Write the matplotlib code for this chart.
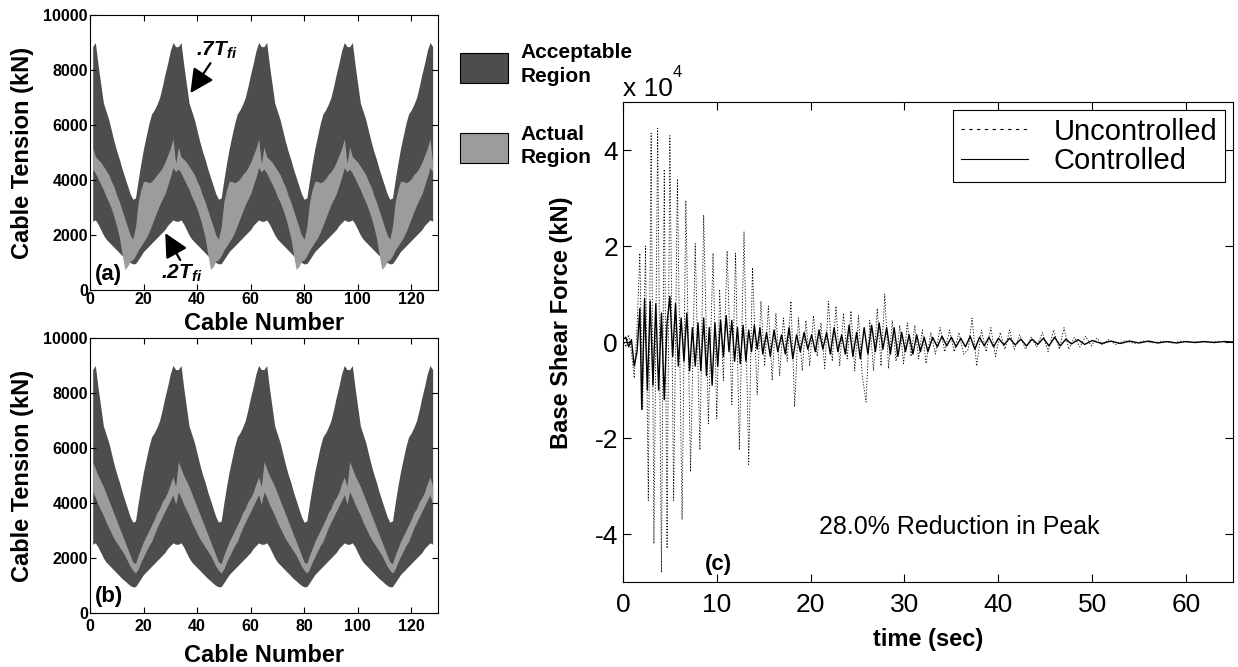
import numpy as np
import matplotlib.pyplot as plt
from matplotlib.patches import Rectangle
from matplotlib.lines import Line2D

plt.rcParams['font.family'] = ['Liberation Sans', 'DejaVu Sans']
plt.rcParams['mathtext.fontset'] = 'custom'
plt.rcParams['mathtext.rm'] = 'Liberation Sans:bold:italic'
plt.rcParams['mathtext.it'] = 'Liberation Sans:bold:italic'

# Datos de tension: un grupo de 32 cables que se repite 4 veces (128 cables)
n_groups = 4
upper_group = [8850, 9000, 8200, 7500, 6800, 6500, 6200, 5800, 5400, 5050, 4750, 4400,
               4100, 3800, 3500, 3300, 3350, 4000, 4600, 5150, 5600, 6050, 6400, 6550,
               6750, 7000, 7400, 7850, 8250, 8700, 9000, 8850]
lower_group = [2500, 2550, 2400, 2200, 2000, 1850, 1750, 1650, 1550, 1450, 1350, 1250,
               1170, 1080, 1000, 950, 960, 1100, 1250, 1400, 1500, 1600, 1700, 1800,
               1900, 2000, 2100, 2200, 2350, 2450, 2550, 2500]
act_a_top = [5200, 4850, 4750, 4650, 4500, 4350, 4200, 3950, 3750, 3450, 3200, 2900,
             2600, 2300, 2000, 1850, 2300, 3200, 3650, 3950, 3950, 3900, 3950, 4050,
             4200, 4300, 4450, 4650, 4900, 5150, 5500, 4600]
act_a_bot = [4400, 4250, 4050, 3850, 3650, 3400, 3200, 2950, 2650, 2300, 1900, 1300,
             750, 850, 1050, 1100, 1250, 1450, 1600, 1750, 1900, 2100, 2350, 2600,
             2850, 3100, 3300, 3500, 3800, 4100, 4450, 4300]
act_b_top = [5500, 5250, 5000, 4800, 4600, 4350, 4100, 3850, 3600, 3350, 3100, 2850,
             2600, 2350, 2100, 1850, 1800, 2100, 2350, 2600, 2800, 3000, 3200, 3400,
             3650, 3800, 4050, 4200, 4400, 4700, 4950, 4600]
act_b_bot = [4400, 4200, 3950, 3750, 3550, 3300, 3100, 2900, 2700, 2550, 2400, 2250,
             2100, 1900, 1700, 1550, 1450, 1600, 1850, 2050, 2250, 2450, 2600, 2850,
             3100, 3300, 3500, 3700, 3900, 4100, 4300, 3950]

# Cortante basal (x 10^4 kN): extremos
t_unc = [0.0, 0.3, 0.6, 0.9, 1.2, 1.5, 1.8, 2.1, 2.4, 2.7, 3.0, 3.3, 3.7, 4.1, 4.4, 4.7,
         5.0, 5.4, 5.8, 6.3, 6.7, 7.2, 7.7, 8.2, 8.6, 9.1, 9.6, 10.0, 10.3, 10.7, 11.1,
         11.6, 12.0, 12.4, 12.9, 13.4, 13.8, 14.3, 14.7, 15.1, 15.5, 15.9, 16.3, 16.7,
         17.1, 17.5, 17.9, 18.3, 18.7, 19.1, 19.5, 19.9, 20.3, 20.7, 21.1, 21.5, 21.9,
         22.3, 22.7, 23.1, 23.5, 23.9, 24.3, 24.7, 25.1, 25.5, 25.9, 26.3, 26.7, 27.1,
         27.5, 27.9, 28.3, 28.7, 29.1, 29.5, 29.9, 30.3, 30.7, 31.1, 31.5, 31.9, 32.3,
         32.8, 33.3, 33.8, 34.3, 34.8, 35.3, 35.8, 36.3, 36.8, 37.2, 37.7, 38.2, 38.7,
         39.2, 39.7, 40.2, 40.7, 41.2, 41.7, 42.3, 42.9, 43.5, 44.1, 44.7, 45.3, 45.9,
         46.5, 47.0, 47.5, 48.1, 48.7, 49.3, 49.9, 50.5, 51.1, 51.7, 52.5, 53.5, 54.5,
         55.5, 56.5, 57.5, 58.5, 59.5, 60.5, 61.5, 62.5, 63.5, 65.0]
v_unc = [0.05, -0.1, 0.15, -0.2, -0.75, 0.3, 1.85, -1.4, 2.0, -3.3, 4.35, -4.2, 4.45, -4.8,
         3.6, -4.3, 4.3, -3.3, 3.4, -3.7, 2.95, -2.7, 2.05, -2.25, 2.65, -1.7, 1.85, -1.6,
         1.1, -0.8, 1.9, -1.3, 1.85, -2.25, 2.3, -2.55, 1.55, -1.1, 0.85, -0.5, 0.75, -0.8,
         0.6, -0.7, 0.5, -0.4, 0.85, -1.35, 0.5, -0.6, 0.45, -0.5, 0.55, -0.3, 0.4, -0.55,
         0.85, -0.4, 0.75, -0.5, 0.6, -0.35, 0.65, -0.6, 0.55, -0.7, -1.25, 0.45, -0.6,
         0.7, -0.5, 1.0, -0.55, 0.45, -0.4, 0.35, -0.45, 0.4, -0.3, 0.35, -0.35, 0.25,
         -0.45, 0.2, -0.25, 0.3, -0.2, 0.25, -0.2, 0.2, -0.25, -0.15, 0.5, -0.5, 0.25,
         -0.2, 0.3, -0.3, 0.2, -0.15, 0.25, -0.15, 0.15, -0.15, 0.1, -0.1, 0.2, -0.2, 0.25,
         -0.15, 0.3, -0.15, 0.1, -0.1, 0.12, -0.08, 0.08, -0.06, 0.05, -0.05, 0.03, -0.03,
         0.02, -0.02, 0.02, -0.02, 0.02, -0.01, 0.01, -0.01, 0.01, 0.0]
t_con = [0.0, 0.3, 0.6, 0.9, 1.2, 1.5, 1.8, 2.0, 2.3, 2.6, 2.9, 3.2, 3.5, 3.8, 4.1, 4.4,
         4.7, 5.0, 5.3, 5.6, 5.9, 6.2, 6.5, 6.8, 7.1, 7.4, 7.7, 8.0, 8.3, 8.6, 8.9, 9.2,
         9.5, 9.8, 10.1, 10.4, 10.7, 11.0, 11.3, 11.6, 11.9, 12.2, 12.5, 12.8, 13.1, 13.4,
         13.7, 14.0, 14.3, 14.6, 14.9, 15.3, 15.7, 16.1, 16.5, 16.9, 17.3, 17.7, 18.1,
         18.5, 18.9, 19.3, 19.7, 20.1, 20.5, 20.9, 21.3, 21.7, 22.1, 22.5, 22.9, 23.3,
         23.7, 24.1, 24.5, 24.9, 25.3, 25.7, 26.1, 26.5, 26.9, 27.3, 27.7, 28.1, 28.5,
         28.9, 29.3, 29.7, 30.1, 30.5, 30.9, 31.3, 31.7, 32.1, 32.5, 33.0, 33.5, 34.0,
         34.5, 35.0, 35.5, 36.0, 36.5, 37.0, 37.5, 38.0, 38.5, 39.0, 39.5, 40.0, 40.6,
         41.2, 41.8, 42.4, 43.0, 43.6, 44.2, 44.8, 45.4, 46.0, 46.6, 47.2, 47.8, 48.5,
         49.2, 50.0, 51.0, 52.0, 53.0, 54.0, 55.0, 56.0, 57.0, 58.0, 59.0, 60.0, 61.0,
         62.0, 63.0, 64.0, 65.0]
v_con = [0.05, 0.1, -0.1, 0.05, -0.5, -0.2, 0.7, -1.4, 0.9, -1.0, 0.85, -0.9, 0.8, -1.0,
         0.6, -1.2, 0.4, 0.95, -0.3, 0.8, -0.5, 0.5, -0.4, 0.6, -0.6, 0.3, -0.5, 0.4, -0.6,
         0.5, -0.7, 0.3, -0.9, 0.4, -0.5, 0.45, -0.3, 0.55, -0.2, 0.45, -0.4, 0.3, -0.45,
         0.35, -0.4, 0.25, -0.2, 0.35, -0.15, 0.3, -0.25, 0.2, -0.3, 0.25, -0.2, 0.15,
         -0.25, 0.3, -0.35, 0.15, -0.2, 0.2, -0.15, 0.15, -0.2, 0.25, -0.15, 0.2, -0.25,
         0.3, -0.2, 0.15, -0.25, 0.35, -0.3, 0.2, -0.35, 0.3, -0.25, 0.35, -0.2, 0.4,
         -0.15, 0.3, -0.25, 0.3, -0.3, 0.2, -0.2, 0.15, -0.25, 0.15, -0.2, 0.1, -0.2, 0.1,
         -0.1, 0.12, -0.08, 0.1, -0.1, 0.08, -0.1, 0.12, -0.15, 0.1, -0.08, 0.1, -0.1,
         0.08, -0.06, 0.08, -0.06, 0.06, -0.08, 0.06, -0.05, 0.08, -0.08, 0.1, -0.08, 0.06,
         -0.04, 0.05, -0.05, 0.03, -0.03, 0.02, -0.03, 0.02, -0.02, 0.02, -0.02, 0.01,
         -0.02, 0.01, -0.01, 0.01, -0.01, 0.01, 0.0]

dark = '#4d4d4d'
light = '#9c9c9c'

cable = np.arange(1, 32 * n_groups + 1)
upper = np.tile(upper_group, n_groups)
lower = np.tile(lower_group, n_groups)

fig = plt.figure(figsize=(12.38, 6.67), dpi=100)
ax_a = fig.add_axes([0.0727, 0.5652, 0.2811, 0.4123])
ax_b = fig.add_axes([0.0727, 0.0810, 0.2811, 0.4123])
ax_c = fig.add_axes([0.5032, 0.1274, 0.4927, 0.7196])

for ax, top, bot, xlim, lab, xpad, xlab_y in [
        (ax_a, act_a_top, act_a_bot, (0, 130), '(a)', 1.5, -0.08),
        (ax_b, act_b_top, act_b_bot, (1, 130), '(b)', 4, -0.112)]:
    ax.fill_between(cable, lower, upper, color=dark, lw=0)
    ax.fill_between(cable, np.tile(bot, n_groups), np.tile(top, n_groups), color=light, lw=0)
    ax.set_xlim(*xlim)
    ax.set_ylim(0, 10000)
    ax.set_xticks(np.arange(0, 121, 20))
    ax.set_yticks(np.arange(0, 10001, 2000))
    ax.tick_params(direction='in', top=True, right=True, length=4, width=0.8, labelsize=11.5)
    ax.tick_params(axis='x', pad=xpad)
    ax.tick_params(axis='y', pad=1.5)
    for tl in ax.get_xticklabels() + ax.get_yticklabels():
        tl.set_fontweight('bold')
    ax.set_xlabel('Cable Number', fontsize=17, fontweight='bold')
    ax.set_ylabel('Cable Tension (kN)', fontsize=17, fontweight='bold')
    ax.xaxis.set_label_coords(0.5, xlab_y)
    ax.yaxis.set_label_coords(-0.16, 0.5)
    ax.text(0.015, 0.02, lab, transform=ax.transAxes, fontsize=16, fontweight='bold',
            ha='left', va='bottom')

# anotaciones de los limites
arrow = dict(arrowstyle='-|>,head_length=0.8,head_width=0.4', color='black',
             lw=1.6, mutation_scale=18, shrinkA=0, shrinkB=0)
ax_a.annotate('', xy=(37.5, 7160), xytext=(45, 8250), arrowprops=arrow)
ax_a.annotate('', xy=(28.1, 2070), xytext=(33.7, 1090), arrowprops=arrow)
ax_a.text(47.2, 8730, '.7$T_{fi}$', fontsize=15, fontweight='bold', style='italic',
          ha='center', va='center')
ax_a.text(34.1, 620, '.2$T_{fi}$', fontsize=15, fontweight='bold', style='italic',
          ha='center', va='center')

# leyenda de regiones
fig.add_artist(Rectangle((0.3716, 0.8756), 0.0388, 0.045, transform=fig.transFigure,
                         facecolor=dark, edgecolor='black', lw=0.8))
fig.add_artist(Rectangle((0.3716, 0.7556), 0.0388, 0.045, transform=fig.transFigure,
                         facecolor=light, edgecolor='black', lw=0.8))
fig.text(0.4208, 0.936, 'Acceptable\nRegion', fontsize=15, fontweight='bold',
         va='top', ha='left', linespacing=1.33)
fig.text(0.4208, 0.812, 'Actual\nRegion', fontsize=15, fontweight='bold',
         va='top', ha='left', linespacing=1.25)

# cortante basal
ax_c.plot(t_unc, np.array(v_unc) * 1e4, color='black', lw=0.6, ls=(0, (1.5, 2)),
          label='Uncontrolled')
ax_c.plot(t_con, np.array(v_con) * 1e4, color='black', lw=1.0, label='Controlled')
ax_c.set_xlim(0, 65)
ax_c.set_ylim(-5e4, 5e4)
ax_c.set_xticks(np.arange(0, 61, 10))
ax_c.set_yticks([-4e4, -2e4, 0, 2e4, 4e4])
ax_c.set_yticklabels(['-4', '-2', '0', '2', '4'])
ax_c.tick_params(direction='in', top=True, right=True, length=6, width=0.8, labelsize=19)
ax_c.tick_params(axis='x', pad=8)
ax_c.set_xlabel('time (sec)', fontsize=17, fontweight='bold')
ax_c.set_ylabel('Base Shear Force (kN)', fontsize=17, fontweight='bold')
ax_c.xaxis.set_label_coords(0.5, -0.096)
ax_c.yaxis.set_label_coords(-0.082, 0.54)
ax_c.text(10.2, -4.85e4, '(c)', fontsize=16, fontweight='bold', ha='center', va='bottom')
ax_c.text(35.8, -3.85e4, '28.0% Reduction in Peak', fontsize=18, ha='center', va='center')
fig.text(0.5032, 1 - 96 / 667, 'x 10', fontsize=19, ha='left', va='baseline')
fig.text(0.5435, 1 - 77 / 667, '4', fontsize=12, ha='left', va='baseline')

handles = [Line2D([], [], color='black', lw=0.8, ls=(0, (3, 4))),
           Line2D([], [], color='black', lw=0.8)]
leg = ax_c.legend(handles, ['Uncontrolled', 'Controlled'], loc='upper right',
                  bbox_to_anchor=(0.987, 0.983), fontsize=21, frameon=True, fancybox=False,
                  framealpha=1, edgecolor='black', borderpad=0.25, labelspacing=0.05,
                  handlelength=2.3, handletextpad=0.9, borderaxespad=0)
leg.get_frame().set_linewidth(0.8)

fig.savefig('out.png', dpi=100)
